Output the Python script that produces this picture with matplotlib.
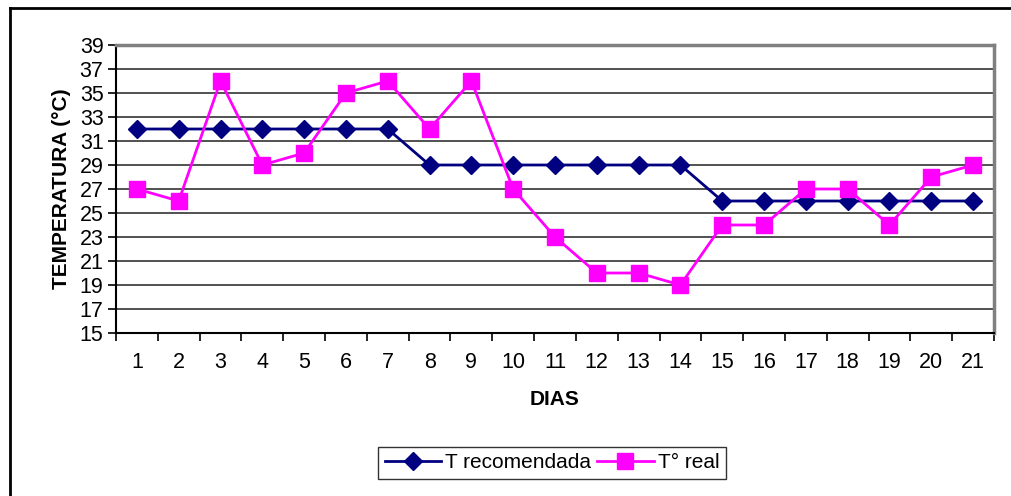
#!/usr/bin/env python3
"""Temperatura recomendada vs real por dia."""

import matplotlib
matplotlib.use("Agg")
import matplotlib.pyplot as plt
import numpy as np

dias = list(range(1, 22))
t_recomendada = [32, 32, 32, 32, 32, 32, 32, 29, 29, 29, 29, 29, 29, 29,
                 26, 26, 26, 26, 26, 26, 26]
t_real = [27, 26, 36, 29, 30, 35, 36, 32, 36, 27, 23, 20, 20, 19,
          24, 24, 27, 27, 24, 28, 29]
y_ticks = list(range(15, 40, 2))

plt.rcParams["font.family"] = ["Liberation Sans", "DejaVu Sans"]


def main() -> None:
    fig = plt.figure(figsize=(10.11, 4.96), dpi=100)
    ax = fig.add_axes([116 / 1011, 1 - 333 / 496, 878 / 1011, 288 / 496])

    ax.plot(dias, t_recomendada, color="#000080", linewidth=2, marker="D",
            markersize=9.5, label="T recomendada", zorder=3)
    ax.plot(dias, t_real, color="#FF00FF", linewidth=2, marker="s",
            markersize=11, label="T° real", zorder=4)

    ax.set_xlim(0.5, 21.5)
    ax.set_ylim(15, 39)
    ax.set_yticks(y_ticks)
    ax.set_xticks(dias)
    ax.set_xticks(np.arange(0.5, 22, 1), minor=True)
    ax.tick_params(axis="x", which="major", length=0, labelsize=15.5, pad=14)
    ax.tick_params(axis="x", which="minor", length=6, width=1.2, direction="out")
    ax.tick_params(axis="y", length=6, width=1.2, labelsize=15.5, pad=3)
    ax.grid(True, axis="y", color="#333333", linewidth=1.2, zorder=0)

    for side in ("top", "right"):
        ax.spines[side].set_color("#808080")
        ax.spines[side].set_linewidth(2.5)
    for side in ("left", "bottom"):
        ax.spines[side].set_color("#000000")
        ax.spines[side].set_linewidth(1.5)

    ax.set_xlabel("DIAS", fontsize=15, fontweight="bold", labelpad=12)
    ax.set_ylabel("TEMPERATURA (°C)", fontsize=15, fontweight="bold", labelpad=6)

    leg = ax.legend(loc="center", bbox_to_anchor=(552 / 1011, 1 - 463 / 496),
                    bbox_transform=fig.transFigure, ncol=2, frameon=True,
                    fancybox=False, fontsize=15, handlelength=2.7,
                    columnspacing=0.3, handletextpad=0.2, borderpad=0.3)
    leg.get_frame().set_edgecolor("#000000")
    leg.get_frame().set_linewidth(1)

    # outer chart border (top and left only visible)
    fig.add_artist(plt.Line2D([10 / 1011, 10 / 1011], [0, 1 - 8 / 496],
                              color="#000000", linewidth=2))
    fig.add_artist(plt.Line2D([10 / 1011, 1], [1 - 8 / 496, 1 - 8 / 496],
                              color="#000000", linewidth=2))

    fig.savefig("out.png", dpi=100)
    plt.close(fig)


if __name__ == "__main__":
    main()
